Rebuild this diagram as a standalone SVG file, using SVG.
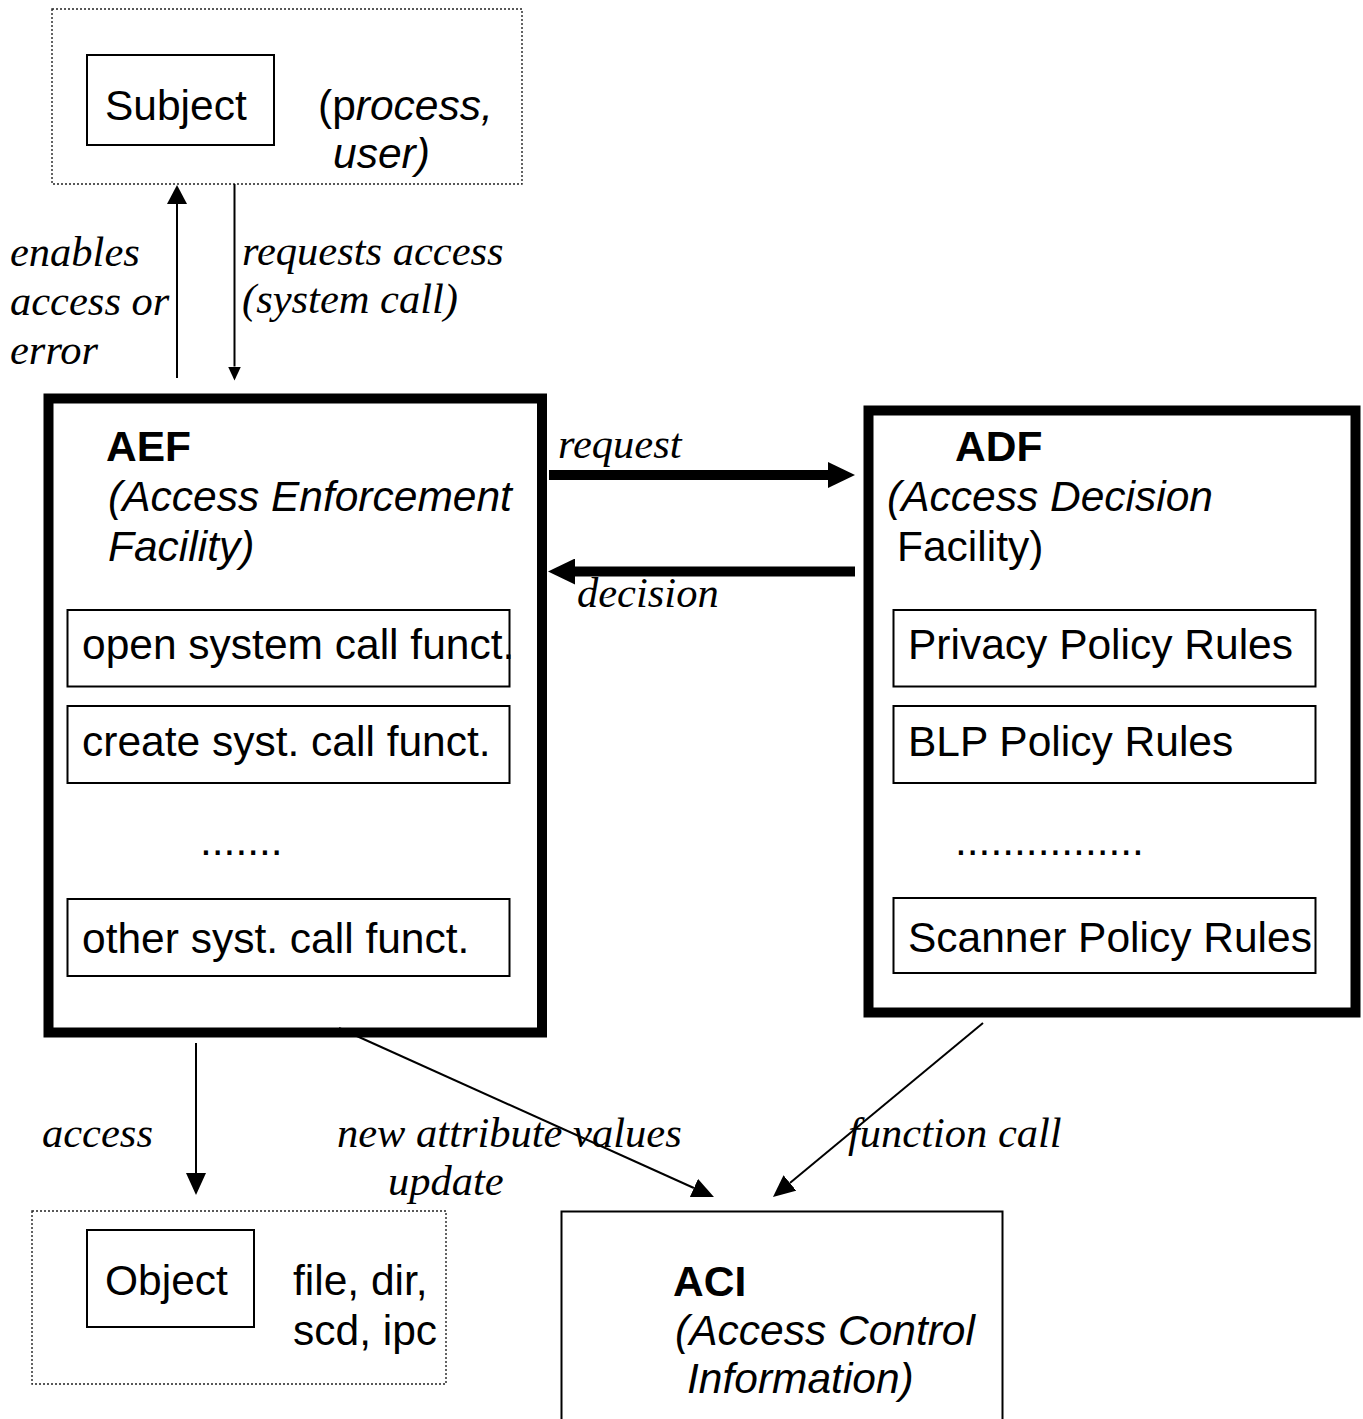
<svg xmlns="http://www.w3.org/2000/svg" width="1363" height="1419" viewBox="0 0 1363 1419">
  <style>
    .sans { font-family: "Liberation Sans", Arial, sans-serif; font-size: 42.5px; fill: #000; }
    .bold { font-weight: bold; }
    .ital { font-style: italic; }
    .serif { font-family: "Liberation Serif", "Times New Roman", serif; font-size: 42.5px; font-style: italic; fill: #000; }
    .dotted { fill: none; stroke: #222; stroke-width: 1.4; stroke-dasharray: 2 2; }
    .box { fill: none; stroke: #000; stroke-width: 2; }
    .frame { fill: none; stroke: #000; stroke-width: 10; }
    .thin { stroke: #000; stroke-width: 2; fill: none; }
    .thick { stroke: #000; stroke-width: 10; fill: none; }
  </style>
  <defs>
    <marker id="headThin" markerUnits="userSpaceOnUse" markerWidth="22" markerHeight="20" refX="0" refY="10" orient="auto">
      <path d="M0,0 L22,10 L0,20 z" fill="#000"/>
    </marker>
    <marker id="headUp" markerUnits="userSpaceOnUse" markerWidth="19" markerHeight="20" refX="0" refY="10" orient="auto">
      <path d="M0,0 L19,10 L0,20 z" fill="#000"/>
    </marker>
    <marker id="headSmall" markerUnits="userSpaceOnUse" markerWidth="14" markerHeight="13" refX="0" refY="6.5" orient="auto">
      <path d="M0,0 L14,6.5 L0,13 z" fill="#000"/>
    </marker>
    <marker id="headThick" markerUnits="userSpaceOnUse" markerWidth="27" markerHeight="26" refX="0" refY="13" orient="auto">
      <path d="M0,0 L27,13 L0,26 z" fill="#000"/>
    </marker>
  </defs>

  <rect width="1363" height="1419" fill="#fff"/>

  <!-- Subject -->
  <g id="subject">
    <rect class="dotted" x="52" y="9" width="470" height="175"/>
    <rect class="box" x="87" y="55" width="187" height="90"/>
    <text class="sans" x="105" y="120">Subject</text>
    <text class="sans" x="318" y="120">(p<tspan class="ital">rocess,</tspan></text>
    <text class="sans ital" x="333" y="168">user)</text>
  </g>

  <!-- Access Enforcement Facility -->
  <g id="aef">
    <rect class="frame" x="48.5" y="398.5" width="493.5" height="634"/>
    <text class="sans bold" x="106" y="461">AEF</text>
    <text class="sans ital" x="108" y="511">(Access Enforcement</text>
    <text class="sans ital" x="108" y="561">Facility)</text>
    <rect class="box" x="67.5" y="610" width="442" height="76.5"/>
    <text class="sans" x="82" y="659">open system call funct.</text>
    <rect class="box" x="67.5" y="706" width="442" height="77"/>
    <text class="sans" x="82" y="756">create syst. call funct.</text>
    <text class="sans" x="200" y="855">.......</text>
    <rect class="box" x="67.5" y="899" width="442" height="77"/>
    <text class="sans" x="82" y="953">other syst. call funct.</text>
  </g>

  <!-- Access Decision Facility -->
  <g id="adf">
    <rect class="frame" x="868.5" y="410.5" width="487" height="602"/>
    <text class="sans bold" x="955" y="461">ADF</text>
    <text class="sans ital" x="887" y="511">(Access Decision</text>
    <text class="sans" x="897" y="561">Facility)</text>
    <rect class="box" x="893.5" y="610" width="422" height="76.5"/>
    <text class="sans" x="908" y="659">Privacy Policy Rules</text>
    <rect class="box" x="893.5" y="706" width="422" height="77"/>
    <text class="sans" x="908" y="756">BLP Policy Rules</text>
    <text class="sans" x="955" y="855">................</text>
    <rect class="box" x="893.5" y="898" width="422" height="75"/>
    <text class="sans" x="908" y="952">Scanner Policy Rules</text>
  </g>

  <!-- Object -->
  <g id="object">
    <rect class="dotted" x="32" y="1211" width="414" height="173"/>
    <rect class="box" x="87" y="1230" width="167" height="97"/>
    <text class="sans" x="105" y="1295">Object</text>
    <text class="sans" x="293" y="1295">file, dir,</text>
    <text class="sans" x="293" y="1345">scd, ipc</text>
  </g>

  <!-- Access Control Information -->
  <g id="aci">
    <rect class="box" x="561.5" y="1211.5" width="441" height="230" stroke-width="2.5"/>
    <text class="sans bold" x="673" y="1296">ACI</text>
    <text class="sans ital" x="675" y="1345">(Access Control</text>
    <text class="sans ital" x="687" y="1393">Information)</text>
  </g>

  <!-- Connectors -->
  <g id="connectors">
    <line class="thin" x1="177" y1="378" x2="177" y2="204" marker-end="url(#headUp)"/>
    <line class="thin" x1="234.5" y1="184" x2="234.5" y2="366.5" marker-end="url(#headSmall)"/>
    <line class="thick" x1="549" y1="475" x2="828" y2="475" marker-end="url(#headThick)"/>
    <line class="thick" x1="855" y1="571.5" x2="575" y2="571.5" marker-end="url(#headThick)"/>
    <line class="thin" x1="196" y1="1043" x2="196" y2="1173" marker-end="url(#headThin)"/>
    <line class="thin" x1="339" y1="1028" x2="693.9" y2="1188" marker-end="url(#headThin)"/>
    <line class="thin" x1="983" y1="1023" x2="789.9" y2="1183" marker-end="url(#headThin)"/>
  </g>

  <!-- Connector labels -->
  <g id="labels">
    <text class="serif" x="10" y="266">enables</text>
    <text class="serif" x="10" y="315">access or</text>
    <text class="serif" x="10" y="364">error</text>
    <text class="serif" x="242" y="265">requests access</text>
    <text class="serif" x="242" y="313">(system call)</text>
    <text class="serif" x="558" y="458">request</text>
    <text class="serif" x="577" y="607">decision</text>
    <text class="serif" x="42" y="1147">access</text>
    <text class="serif" x="337" y="1147">new attribute values</text>
    <text class="serif" x="388" y="1195">update</text>
    <text class="serif" x="848" y="1147">function call</text>
  </g>
</svg>
